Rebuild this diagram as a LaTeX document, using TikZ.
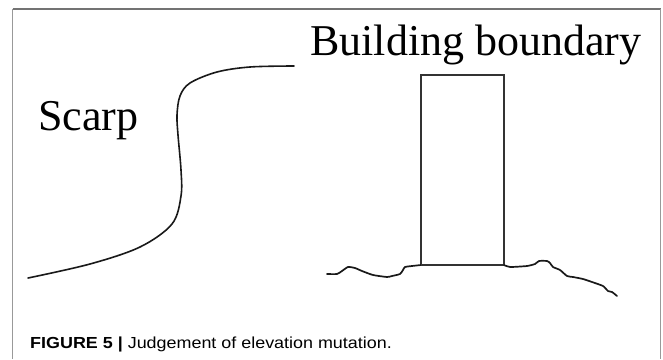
\documentclass[tikz,border=0pt]{standalone}
\usepackage{fontspec}
\setmainfont{Liberation Serif}
\newfontfamily\capfont[FakeStretch=1.12]{Liberation Sans}
\begin{document}
\begin{tikzpicture}[x=1pt,y=-1pt,
  label text/.style={inner sep=0pt,font=\fontsize{44}{50}\selectfont},
  caption text/.style={inner sep=0pt,font=\capfont\fontsize{16}{19}\selectfont},
  frame line/.style={line width=1.2pt},
  scarp line/.style={line width=1.6pt,black!90,line cap=round,line join=round},
  ground line/.style={line width=1.7pt,black!90,line cap=round,line join=round},
  building/.style={draw=black!80,line width=1.1pt,inner sep=0pt,outer sep=0pt,
                   minimum width=83pt,minimum height=190pt}]
  \useasboundingbox (0,0) rectangle (663,359);
  \fill[white] (0,0) rectangle (663,359);
  % figure frame: open at the bottom
  \draw[frame line,black!40] (12.5,359) -- (12.5,9);
  \draw[frame line,black!55] (12.5,9) -- (660.5,9);
  \draw[frame line,black!40] (660.5,9) -- (660.5,359);

  % labels
  \node[label text,anchor=base west] (scarp) at (38,130) {Scarp};
  \node[label text,anchor=base west] (boundary) at (310,55) {Building boundary};

  % scarp profile
  \draw[scarp line] plot[smooth,tension=0.55] coordinates {
    (28,278) (90,264) (140,247) (172,224) (181,196) (181,170)
    (178,135) (177,115) (180,96) (190,83) (217,72) (250,67) (294,66)};

  % building and the ground on both sides
  \node[building] (bldg) at (462.5,170) {};
  \draw[ground line] plot[smooth,tension=0.35] coordinates {
    (327,274) (337,274) (342,271) (348,267) (355,268) (362,271) (373,275)
    (387,277) (392,276) (400,274) (403,270) (405,267) (412,266) (bldg.south west)};
  \draw[black!80,line width=1.1pt] (bldg.south west) -- (bldg.south east);
  \draw[ground line] plot[smooth,tension=0.35] coordinates {
    (bldg.south east) (510,267) (527,266) (535,264) (539,261) (547,261) (550,263)
    (553,267) (560,270) (567,276) (573,277) (583,279) (592,282) (603,286)
    (608,291) (612,292) (617,296)};

  % caption
  \node[caption text,anchor=base west] (caption) at (30,348)
    {\textbf{FIGURE 5 |} Judgement of elevation mutation.};
\end{tikzpicture}
\end{document}
